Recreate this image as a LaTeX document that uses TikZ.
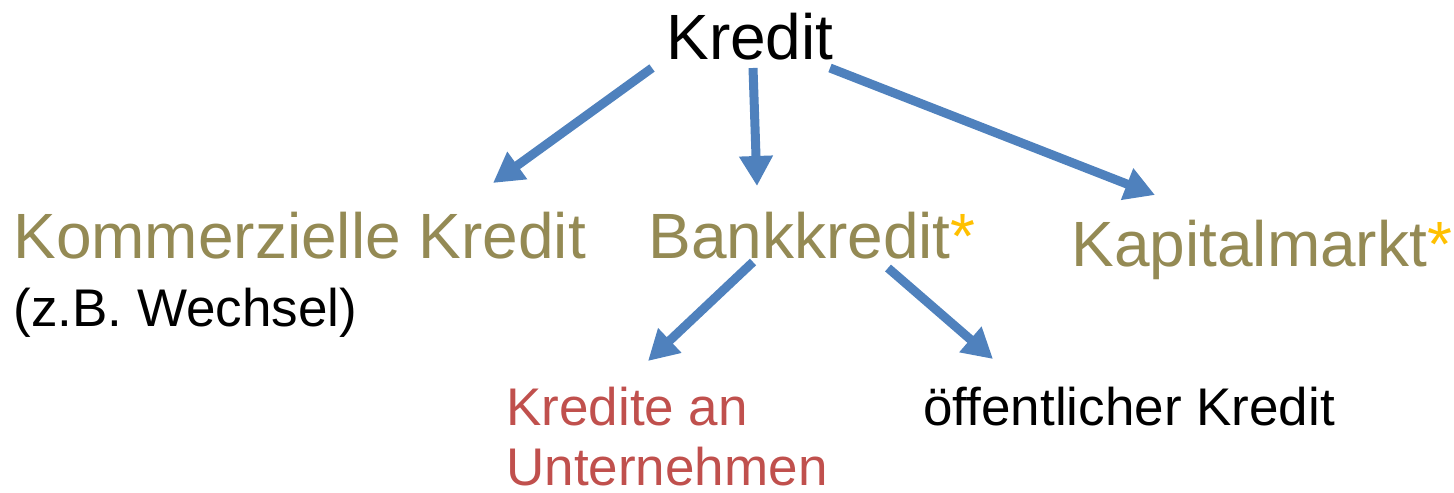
\documentclass[tikz,border=0pt]{standalone}
\usepackage{fontspec}
\setmainfont{Liberation Sans}
\usetikzlibrary{arrows.meta}
\usetikzlibrary{calc}
\definecolor{olive}{HTML}{948A54}
\definecolor{arrowblue}{HTML}{4F81BD}
\definecolor{darkred}{HTML}{C0504D}
\definecolor{star}{HTML}{FFC000}
\newcommand{\stern}{\textcolor{star}{*}}

\begin{document}
\begin{tikzpicture}[x=0.5pt, y=-0.5pt,
    lbl/.style={anchor=base west, inner sep=0pt},
    big/.style={lbl, font=\fontsize{32}{38}\selectfont},
    small/.style={lbl, font=\fontsize{26.5}{30}\selectfont},
    pfeil/.style={-{Triangle[length=15pt, width=16pt]}, line width=4.5pt, arrowblue}]
    \useasboundingbox (0,0) rectangle (1454,492);

    \node (kredit) [big] at (666,60) {Kredit};
    \node (komm) [big, olive] at (13,258) {Kommerzielle Kredit};
    \node (wechsel) [small] at (13,326) {(z.B. Wechsel)};
    \node (bank) [big, olive] at (648,258) {Bankkredit\stern};
    \node (kapital) [big, olive] at (1071,266) {Kapitalmarkt\stern};

    % base of a two-line node is its last line
    \node (unter) [small, darkred, align=left] at (506,485) {Kredite an\\Unternehmen};
    \node (oeff) [small] at (923,425) {öffentlicher Kredit};

    % arrows from Kredit
    \draw[pfeil] ($(kredit.base west)+(-14,8)$) -- ($(komm.base west)+(480,-75)$);
    \draw[pfeil] ($(kredit.base west)+(87,8)$) -- ($(bank.base west)+(109,-72)$);
    \draw[pfeil] ($(kredit.base west)+(164,8)$) -- ($(kapital.base west)+(84,-71)$);

    % arrows from Bankkredit
    \draw[pfeil] ($(bank.base west)+(105,4)$) -- ($(unter.base west)+(142,-124)$);
    \draw[pfeil] ($(bank.base west)+(240,10)$) -- ($(oeff.base west)+(70,-66)$);
\end{tikzpicture}
\end{document}
